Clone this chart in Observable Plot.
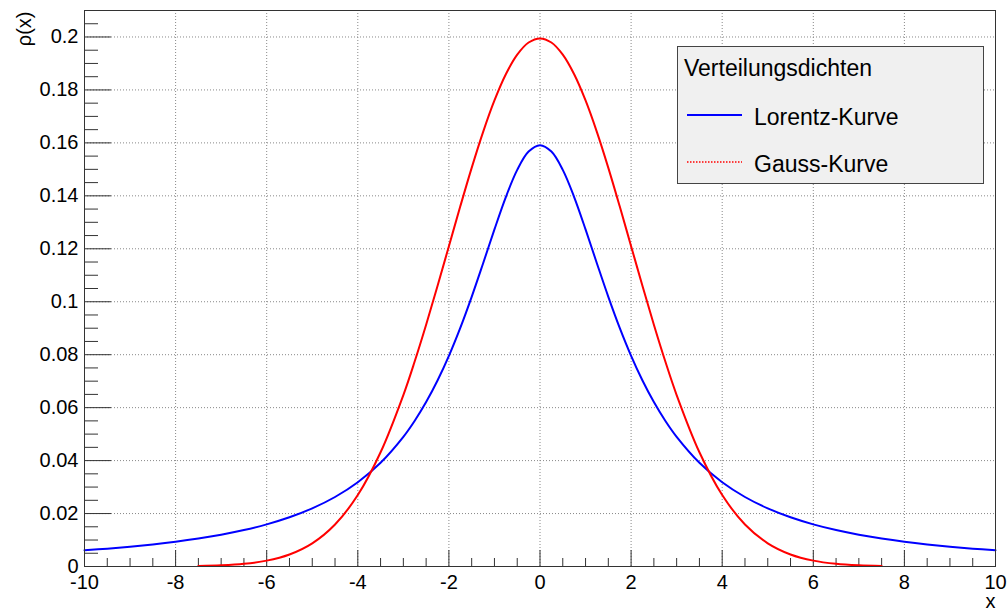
<!DOCTYPE html>
<html><head><meta charset="utf-8">
<script src="https://cdn.jsdelivr.net/npm/d3@7"></script>
<script src="https://cdn.jsdelivr.net/npm/@observablehq/plot@0.6"></script>
<style>
body{margin:0;background:#fff;font-family:"Liberation Sans",Arial,sans-serif;}
#wrap{position:relative;width:1008px;height:611px;overflow:hidden;}
#legend{position:absolute;left:677px;top:46px;}
</style>
</head><body>
<div id="wrap"><div id="chart"></div>
<svg id="legend" width="310" height="142" font-family="Liberation Sans, Arial, sans-serif"></svg>
</div>
<script>
// Data
const lorentzX = [-10,-9.5,-9,-8.5,-8,-7.5,-7,-6.5,-6,-5.5,-5,-4.5,-4,-3.5,-3,-2.75,-2.5,-2.25,-2,-1.75,-1.5,-1.25,-1,-0.75,-0.5,-0.25,0,0.25,0.5,0.75,1,1.25,1.5,1.75,2,2.25,2.5,2.75,3,3.5,4,4.5,5,5.5,6,6.5,7,7.5,8,8.5,9,9.5,10];
const lorentzY = [0.00612,0.00675,0.00749,0.00835,0.00936,0.01057,0.01201,0.01376,0.01592,0.01859,0.02195,0.02625,0.03183,0.03918,0.04897,0.05506,0.06211,0.07025,0.07958,0.09014,0.10186,0.11445,0.12732,0.13953,0.14979,0.15671,0.15915,0.15671,0.14979,0.13953,0.12732,0.11445,0.10186,0.09014,0.07958,0.07025,0.06211,0.05506,0.04897,0.03918,0.03183,0.02625,0.02195,0.01859,0.01592,0.01376,0.01201,0.01057,0.00936,0.00835,0.00749,0.00675,0.00612];
const gaussX = [-7.5,-7,-6.5,-6,-5.5,-5,-4.5,-4,-3.5,-3,-2.75,-2.5,-2.25,-2,-1.75,-1.5,-1.25,-1,-0.75,-0.5,-0.25,0,0.25,0.5,0.75,1,1.25,1.5,1.75,2,2.25,2.5,2.75,3,3.5,4,4.5,5,5.5,6,6.5,7,7.5];
const gaussY = [0.00018,0.00044,0.00101,0.00222,0.00455,0.00876,0.01587,0.02700,0.04314,0.06476,0.07751,0.09132,0.10594,0.12099,0.13603,0.15057,0.16408,0.17603,0.18593,0.19333,0.19792,0.19947,0.19792,0.19333,0.18593,0.17603,0.16408,0.15057,0.13603,0.12099,0.10594,0.09132,0.07751,0.06476,0.04314,0.02700,0.01587,0.00876,0.00455,0.00222,0.00101,0.00044,0.00018];
const xMajor = [-10,-8,-6,-4,-2,0,2,4,6,8,10];
const xMinor = [-9.5,-9,-8.5,-7.5,-7,-6.5,-5.5,-5,-4.5,-3.5,-3,-2.5,-1.5,-1,-0.5,0.5,1,1.5,2.5,3,3.5,4.5,5,5.5,6.5,7,7.5,8.5,9,9.5];
const yMajor = [0,0.02,0.04,0.06,0.08,0.1,0.12,0.14,0.16,0.18,0.2];
const yMinor = [0.005,0.01,0.015,0.025,0.03,0.035,0.045,0.05,0.055,0.065,0.07,0.075,0.085,0.09,0.095,0.105,0.11,0.115,0.125,0.13,0.135,0.145,0.15,0.155,0.165,0.17,0.175,0.185,0.19,0.195,0.205];
const xGrid = [-8,-6,-4,-2,0,2,4,6,8];
const yGrid = [0.02,0.04,0.06,0.08,0.1,0.12,0.14,0.16,0.18,0.2];
const legendTitle = "Verteilungsdichten";
const seriesNames = ["Lorentz-Kurve","Gauss-Kurve"];
const seriesColors = ["#0000ff","#ff0000"];

const W = 1008, H = 611, mL = 84, mR = 13, mT = 10, mB = 45;
const xDom = [-10, 10], yDom = [0, 0.21];
const xPerPx = (xDom[1]-xDom[0])/(W-mL-mR);
const yPerPx = (yDom[1]-yDom[0])/(H-mT-mB);

const lorentz = lorentzX.map((x,i)=>({x, y: lorentzY[i]}));
const gauss = gaussX.map((x,i)=>({x, y: gaussY[i]}));

const fmt = d => String(+d.toFixed(3));
const chart = Plot.plot({
  width: W, height: H,
  marginLeft: mL, marginRight: mR, marginTop: mT, marginBottom: mB,
  style: {fontFamily: "Liberation Sans, Arial, sans-serif", background: "#fff", overflow: "visible"},
  x: {domain: xDom},
  y: {domain: yDom},
  marks: [
    Plot.ruleX(xGrid, {x: d=>d, y1: yDom[0], y2: yDom[1], stroke: "#888", strokeDasharray: "1,2"}),
    Plot.ruleY(yGrid, {y: d=>d, x1: xDom[0], x2: xDom[1], stroke: "#888", strokeDasharray: "1,2"}),
    // y-axis ticks (inward)
    Plot.ruleY(yMajor, {y: d=>d, x1: xDom[0], x2: xDom[0] + 27*xPerPx, stroke: "#333"}),
    Plot.ruleY(yMinor, {y: d=>d, x1: xDom[0], x2: xDom[0] + 14*xPerPx, stroke: "#333"}),
    // x-axis ticks (inward)
    Plot.ruleX(xMajor, {x: d=>d, y1: yDom[0], y2: yDom[0] + 16*yPerPx, stroke: "#333"}),
    Plot.ruleX(xMinor, {x: d=>d, y1: yDom[0], y2: yDom[0] + 8*yPerPx, stroke: "#333"}),
    Plot.line(lorentz, {x: "x", y: "y", stroke: seriesColors[0], strokeWidth: 2, curve: "catmull-rom"}),
    Plot.line(gauss, {x: "x", y: "y", stroke: seriesColors[1], strokeWidth: 2, curve: "catmull-rom"}),
    Plot.frame({stroke: "#333", strokeWidth: 1}),
    Plot.axisX({ticks: xMajor, tickSize: 0, tickPadding: 8, tickFormat: d=>String(d), fontSize: 20, label: null, fill: "#000"}),
    Plot.axisY({ticks: yMajor, tickSize: 0, tickPadding: 6, tickFormat: fmt, fontSize: 20, label: null, fill: "#000"}),
    Plot.text(["ρ(x)"], {frameAnchor: "top-left", dx: -60, dy: 1, rotate: -90, textAnchor: "end", lineAnchor: "middle", fontSize: 20, fill: "#000"}),
    Plot.text(["x"], {frameAnchor: "bottom-right", dy: 41, textAnchor: "end", lineAnchor: "bottom", fontSize: 20, fill: "#000"})
  ]
});
document.getElementById("chart").appendChild(chart);

// Legend
const lg = d3.select("#legend");
lg.append("rect").attr("x",0.5).attr("y",0.5).attr("width",306).attr("height",137).attr("fill","#f0f0f0").attr("stroke","#444");
lg.append("text").attr("x",7).attr("y",30).attr("font-size",23).attr("fill","#000").text(legendTitle);
lg.append("line").attr("x1",10).attr("x2",65).attr("y1",69).attr("y2",69).attr("stroke",seriesColors[0]).attr("stroke-width",2);
lg.append("text").attr("x",77).attr("y",79).attr("font-size",23).attr("fill","#000").text(seriesNames[0]);
lg.append("line").attr("x1",10).attr("x2",65).attr("y1",116).attr("y2",116).attr("stroke",seriesColors[1]).attr("stroke-width",1.3).attr("stroke-dasharray","1.5,1.5");
lg.append("text").attr("x",77).attr("y",126).attr("font-size",23).attr("fill","#000").text(seriesNames[1]);
</script>
</body></html>
